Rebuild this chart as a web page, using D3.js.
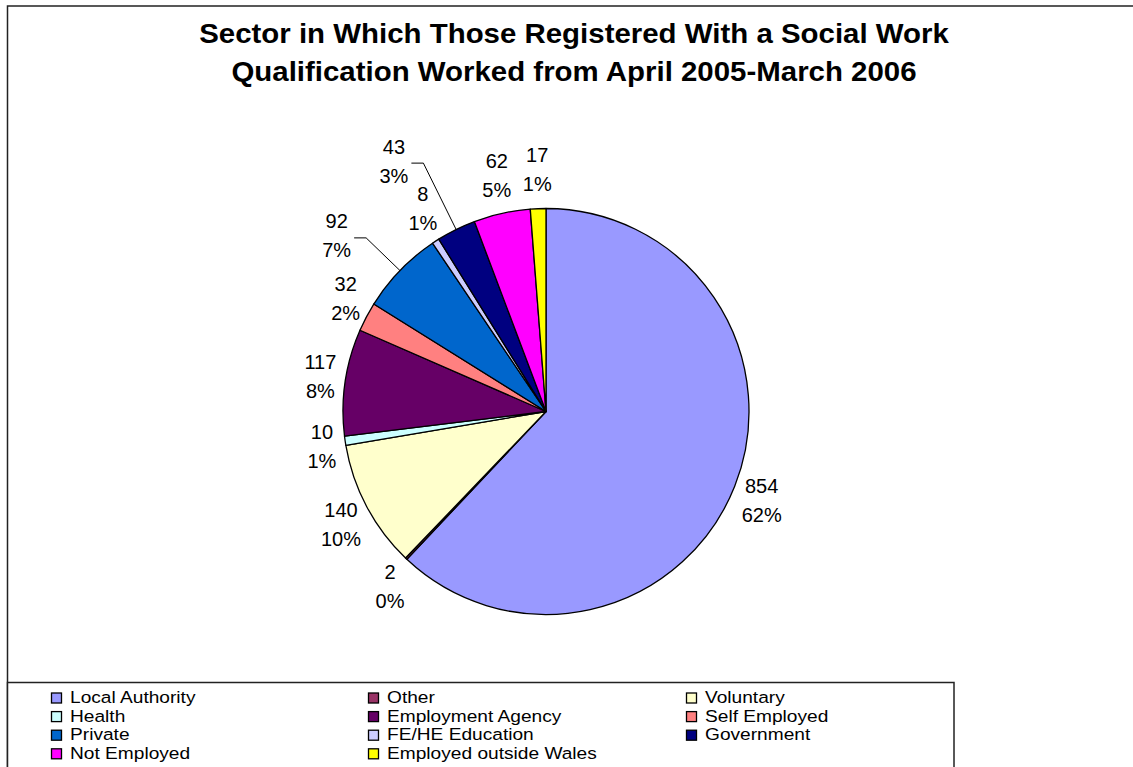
<!DOCTYPE html>
<html>
<head>
<meta charset="utf-8">
<script src="https://cdn.jsdelivr.net/npm/d3@7"></script>
<style>
  html, body { margin: 0; padding: 0; background: #fff; }
  svg { display: block; font-family: "Liberation Sans", Arial, sans-serif; }
</style>
</head>
<body>
<svg id="chart" width="1133" height="767"></svg>
<script>
// Sectors, in the order the slices run clockwise from twelve o'clock
const categories = [
  "Local Authority", "Other", "Voluntary", "Health", "Employment Agency",
  "Self Employed", "Private", "FE/HE Education", "Government",
  "Not Employed", "Employed outside Wales"
];
const counts = [854, 2, 140, 10, 117, 32, 92, 8, 43, 62, 17];
const colors = [
  "#9999FF", "#993366", "#FFFFCC", "#CCFFFF", "#660066",
  "#FF8080", "#0066CC", "#CCCCFF", "#000080", "#FF00FF", "#FFFF00"
];
const titleLines = [
  "Sector in Which Those Registered With a Social Work",
  "Qualification Worked from April 2005-March 2006"
];

// Labels that sit further out on a leader line (extra length beyond the rim)
const leaderLength = { "Private": 47, "Government": 74 };

const svg = d3.select("#chart");

// Chart-area frame
svg.append("rect")
  .attr("x", 7.5).attr("y", 6).attr("width", 1140).attr("height", 800)
  .attr("fill", "#fff").attr("stroke", "#222").attr("stroke-width", 1.5);

// Title (slightly widened face)
svg.append("g").selectAll("text").data(titleLines).join("text")
  .attr("transform", (d, i) => `translate(574,${43 + i * 38}) scale(1.09,1)`)
  .attr("text-anchor", "middle")
  .attr("font-weight", "bold").attr("font-size", 27)
  .attr("fill", "#000")
  .text(d => d);

// Pie
const cx = 546, cy = 411.5, r = 203;
const total = d3.sum(counts);
const data = categories.map((c, i) => ({ name: c, value: counts[i], color: colors[i] }));
const pie = d3.pie().value(d => d.value).sort(null);
const arcs = pie(data);
const arc = d3.arc().innerRadius(0).outerRadius(r);

const g = svg.append("g").attr("transform", `translate(${cx},${cy})`);
g.selectAll("path").data(arcs).join("path")
  .attr("d", arc)
  .attr("fill", d => d.data.color)
  .attr("stroke", "#000").attr("stroke-width", 1.3)
  .attr("stroke-linejoin", "round");

// Data labels: value and percentage, placed just outside each slice
const fmtPct = v => Math.round(v / total * 100) + "%";
const labelFont = 20, lineGap = 29, dOut = 212, halfH = 30;

const measure = svg.append("text").attr("font-size", labelFont).attr("visibility", "hidden");
function textW(s) { measure.text(s); return measure.node().getComputedTextLength(); }

const lg = svg.append("g");
arcs.forEach(a => {
  const mid = (a.startAngle + a.endAngle) / 2;
  const sx = Math.sin(mid), sy = -Math.cos(mid);
  const lines = [String(a.data.value), fmtPct(a.data.value)];
  const w = Math.max(textW(lines[0]), textW(lines[1]));
  let lx, ly;
  const lead = leaderLength[a.data.name];
  if (lead) {
    const ex = cx + sx * (r + lead), ey = cy + sy * (r + lead);
    const px = cx + sx * r, py = cy + sy * r;
    lg.append("polyline")
      .attr("points", `${px},${py} ${ex},${ey} ${ex - 12},${ey}`)
      .attr("fill", "none").attr("stroke", "#000").attr("stroke-width", 1);
    lx = ex - 12 - 3 - w / 2;
    ly = ey - 2;
  } else {
    lx = cx + sx * dOut + sx * w / 2;
    ly = cy + sy * dOut + sy * halfH;
  }
  lines.forEach((t, i) => {
    lg.append("text")
      .attr("x", lx).attr("y", ly + (i === 0 ? -lineGap / 2 : lineGap / 2))
      .attr("dy", "0.35em")
      .attr("text-anchor", "middle")
      .attr("font-size", labelFont).attr("fill", "#000")
      .text(t);
  });
});
measure.remove();

// Legend
svg.append("rect")
  .attr("x", 7.5).attr("y", 682.5).attr("width", 946.5).attr("height", 120)
  .attr("fill", "#fff").attr("stroke", "#222").attr("stroke-width", 1.5);

const colX = [51, 368, 686];
const rowY = d3.range(4).map(i => 703 + i * 18.6);
const leg = svg.append("g").selectAll("g").data(data).join("g")
  .attr("transform", (d, i) => `translate(${colX[i % 3]},${rowY[Math.floor(i / 3)]})`);
leg.append("rect")
  .attr("x", 0.5).attr("y", -10).attr("width", 10).attr("height", 10)
  .attr("fill", d => d.color).attr("stroke", "#000").attr("stroke-width", 1.3);
leg.append("text")
  .attr("transform", "translate(19,0) scale(1.16,1)")
  .attr("font-size", 16.5).attr("fill", "#000")
  .text(d => d.name);
</script>
</body>
</html>
